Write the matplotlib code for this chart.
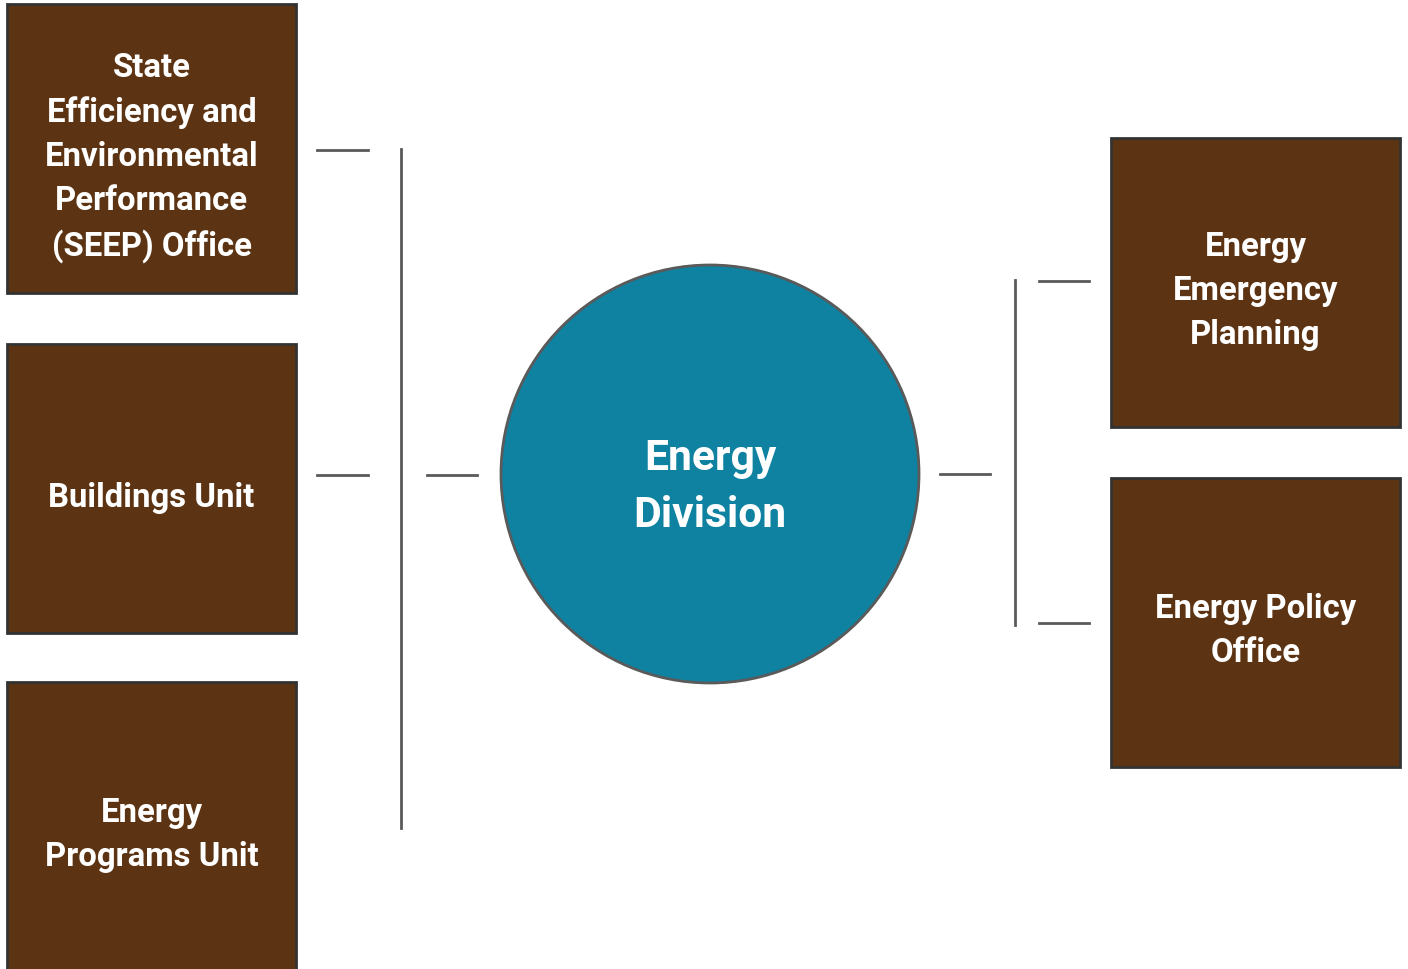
import matplotlib.pyplot as plt
from matplotlib.patches import Rectangle, Circle

plt.rcParams['font.family'] = ['Roboto', 'DejaVu Sans']

# labels
left_units = ['State\nEfficiency and\nEnvironmental\nPerformance\n(SEEP) Office',
              'Buildings Unit',
              'Energy\nPrograms Unit']
right_units = ['Energy\nEmergency\nPlanning',
               'Energy Policy\nOffice']
center_label = 'Energy\nDivision'

brown = '#5c3413'
teal = '#0e82a0'
line_col = '#5a5a5a'
edge_col = '#333333'

fig = plt.figure(figsize=(14.08, 9.70), dpi=100)
ax = fig.add_axes([0, 0, 1, 1])
ax.set_xlim(0, 1408)
ax.set_ylim(970, 0)
ax.axis('off')

box_w = 289
left_x = 7
left_tops = [5, 345, 683]
right_x = 1111
right_tops = [139, 479]

def box(x, y, label):
    ax.add_patch(Rectangle((x, y), box_w, box_w, facecolor=brown,
                           edgecolor=edge_col, lw=2))
    ax.text(x + box_w / 2, y + box_w / 2 + 8, label, color='white',
            ha='center', va='center', fontsize=23.7, fontweight='bold',
            linespacing=1.48)

for t, lab in zip(left_tops, left_units):
    box(left_x, t, lab)
for t, lab in zip(right_tops, right_units):
    box(right_x, t, lab)

# centre circle
ax.add_patch(Circle((710, 475), 209, facecolor=teal, edgecolor=line_col, lw=2))
ax.text(710, 487, center_label, color='white', ha='center', va='center',
        fontsize=30.7, fontweight='bold', linespacing=1.5)

# connector lines
lw = 2
ax.plot([317, 368], [151, 151], color=line_col, lw=lw)
ax.plot([317, 368], [476, 476], color=line_col, lw=lw)
ax.plot([401, 401], [150, 829], color=line_col, lw=lw)
ax.plot([427, 477], [476, 476], color=line_col, lw=lw)
ax.plot([940, 990], [475, 475], color=line_col, lw=lw)
ax.plot([1015, 1015], [281, 626], color=line_col, lw=lw)
ax.plot([1039, 1089], [282, 282], color=line_col, lw=lw)
ax.plot([1039, 1089], [624, 624], color=line_col, lw=lw)

fig.savefig('out.png', dpi=100, facecolor='white')
